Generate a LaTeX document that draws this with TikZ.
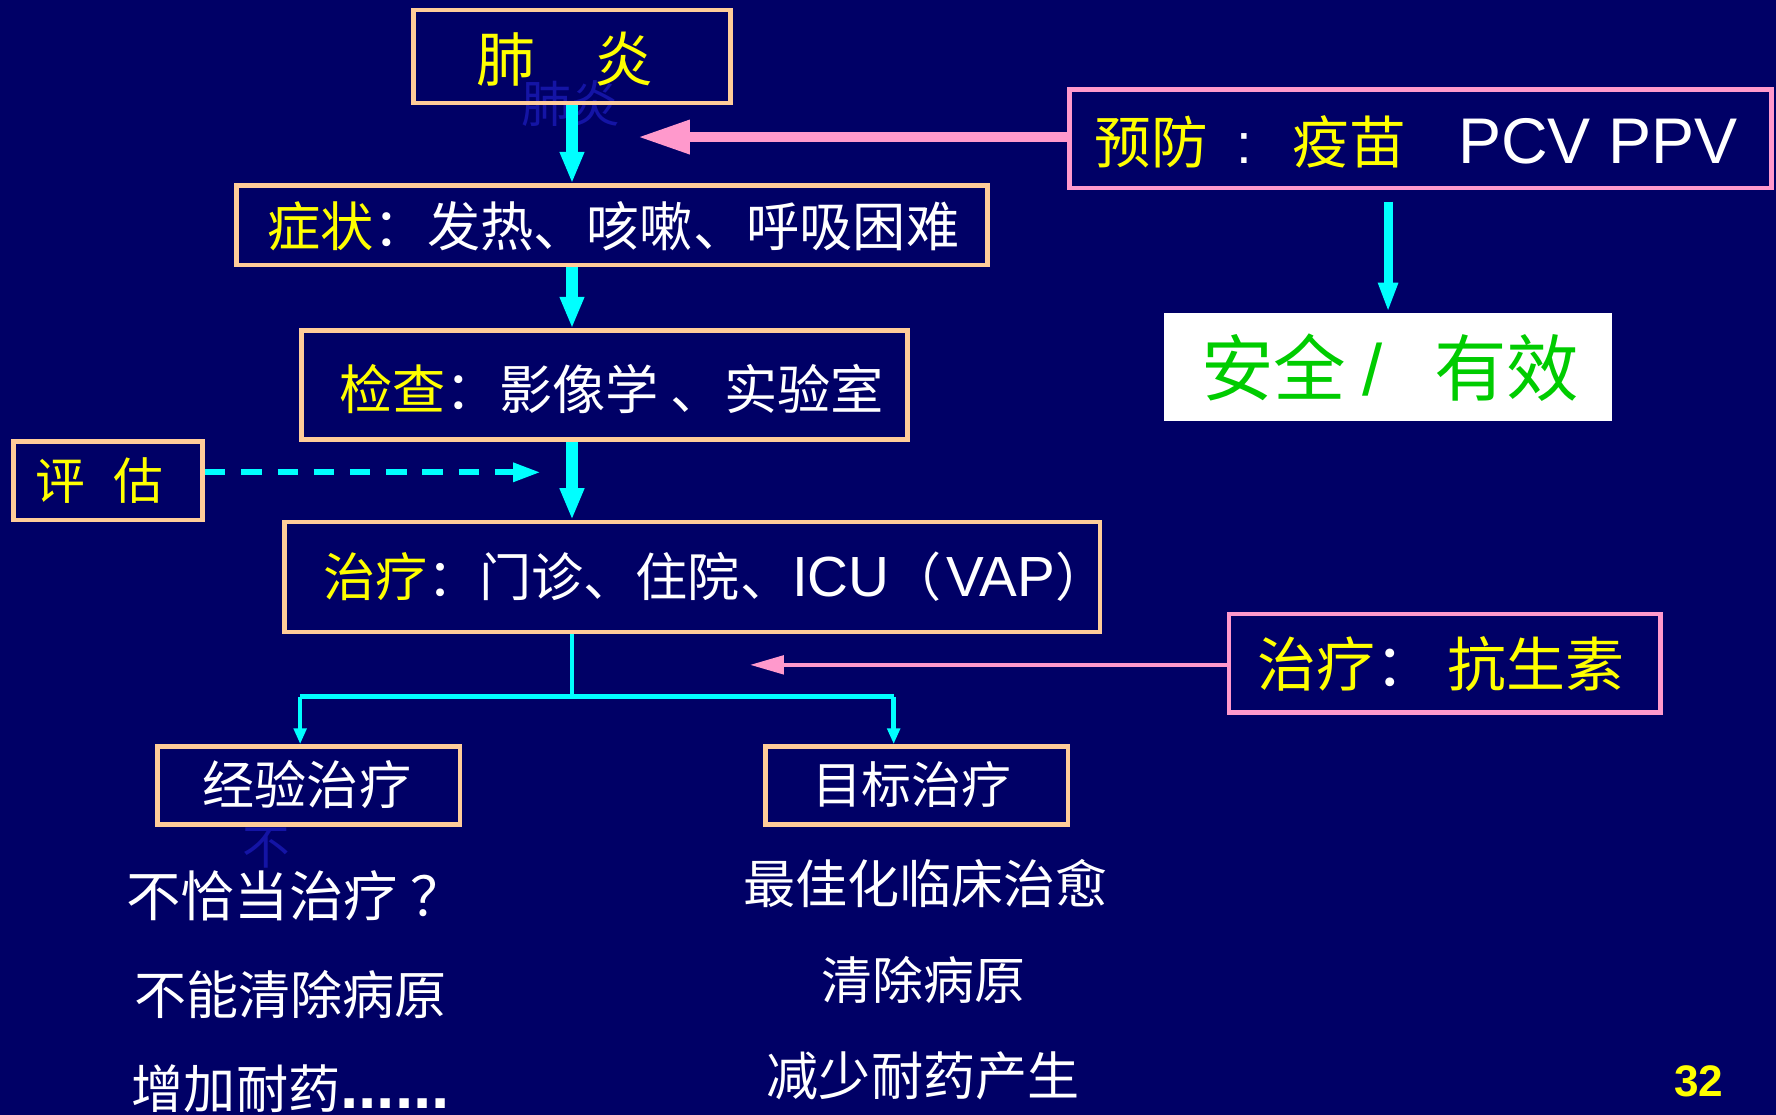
\documentclass[tikz,border=0pt]{standalone}
\usepackage{fontspec}
\setmainfont{Liberation Sans}
\newfontfamily\cjk{Noto Sans CJK SC}
\usetikzlibrary{arrows.meta}
\definecolor{bg}{RGB}{0,0,102}
\definecolor{peach}{RGB}{255,204,153}
\definecolor{pinkc}{RGB}{255,153,204}
\definecolor{cyanc}{RGB}{0,255,255}
\definecolor{yel}{RGB}{255,255,0}
\definecolor{grn}{RGB}{0,204,0}
\definecolor{ghost}{RGB}{20,20,165}
\newcommand\myfs[1]{\fontsize{#1}{#1}\selectfont}
\begin{document}
\begin{tikzpicture}[x=0.5pt,y=-0.5pt,
  pbox/.style={draw=peach,line width=2pt,inner sep=0,minimum width=#1},
  kbox/.style={draw=pinkc,line width=2pt,inner sep=0,minimum width=#1},
  txt/.style={inner sep=0,text=white,font=\cjk},
  bigcy/.style={draw=cyanc,line width=5pt,-{Triangle[length=14pt,width=10pt]}},
  midcy/.style={draw=cyanc,line width=4pt,-{Triangle[length=13pt,width=8pt]}},
  thincy/.style={draw=cyanc,line width=2pt},
  thincyarr/.style={draw=cyanc,line width=2pt,-{Triangle[length=7pt,width=5.5pt]}},
  dashcy/.style={draw=cyanc,line width=2.5pt,dash pattern=on 9pt off 7pt,-{Triangle[length=12pt,width=8pt]}},
  bigpk/.style={draw=pinkc,line width=4.5pt,-{Triangle[length=23pt,width=14pt]}},
  thinpk/.style={draw=pinkc,line width=2pt,-{Triangle[length=15pt,width=8pt]}}
]
\fill[bg] (0,0) rectangle (1568,984);
\useasboundingbox (0,0) rectangle (1568,984);

% faint ghost texts
\node[txt,text=ghost,font=\cjk\myfs{22pt},text height=16pt,text depth=0pt] (g1) at (504,92) {肺炎};
\node[txt,text=ghost,font=\cjk\myfs{21pt},text height=15pt,text depth=0pt] (g2) at (235,748) {不};

% boxes
\node[pbox=140pt,minimum height=41pt] (fy) at (505,50) {};
\node[pbox=331.5pt,minimum height=35pt] (zz) at (540.5,199) {};
\node[pbox=267.5pt,minimum height=48pt] (jc) at (533.5,340) {};
\node[pbox=83.5pt,minimum height=34.5pt] (pg) at (95.5,424.5) {};
\node[pbox=360pt,minimum height=48.5pt] (zl) at (611,509.5) {};
\node[kbox=310pt,minimum height=43.5pt] (yf) at (1254,122.5) {};
\node[fill=white,inner sep=0,minimum width=197.5pt,minimum height=48pt] (aq) at (1225.5,324) {};
\node[kbox=190.5pt,minimum height=43.5pt] (kss) at (1275.5,585.5) {};
\node[pbox=133.5pt,minimum height=34.5pt] (jy) at (272.5,693.5) {};
\node[pbox=133.5pt,minimum height=34.5pt] (mb) at (809.5,693.5) {};

% box texts
\node[txt,text=yel,font=\cjk\myfs{26pt}] (t1) at (499,52) {肺　炎};
\node[txt,font=\cjk\myfs{23.5pt}] (t2) at (541.5,200) {\textcolor{yel}{症状}：发热、咳嗽、呼吸困难};
\node[txt,font=\cjk\myfs{23.5pt}] (t3) at (540,343) {\textcolor{yel}{检查}：影像学 、实验室};
\node[txt,text=yel,font=\cjk\myfs{22pt}] (t4) at (88,424) {评\hspace{12.5pt}估};
\node[txt,font=\cjk\myfs{23pt},anchor=west] (t5) at (285,509) {\textcolor{yel}{治疗}：门诊、住院、{\rmfamily\myfs{25pt}ICU}（\hspace{2pt}{\rmfamily\myfs{25pt}VAP}）};
\node[txt,font=\cjk\myfs{25pt},anchor=west] (t6) at (966,125) {\textcolor{yel}{预防}\hspace{12.5pt}{\rmfamily :}\hspace{18pt}\textcolor{yel}{疫苗}\hspace{23pt}{\rmfamily\myfs{28.5pt}PCV PPV}};
\node[txt,text=grn,font=\cjk\myfs{32pt}] (t7) at (1227.5,325) {安全\hspace{7pt}{\rmfamily /}\hspace{23pt}有效};
\node[txt,font=\cjk\myfs{26pt}] (t8) at (1272,586) {\textcolor{yel}{治疗}：\hspace{6pt}\textcolor{yel}{抗生素}};
\node[txt,font=\cjk\myfs{23pt}] (t9) at (271,693) {经验治疗};
\node[txt,font=\cjk\myfs{22pt}] (t10) at (805,693) {目标治疗};

% free texts
\node[txt,font=\cjk\myfs{24pt},anchor=west] (l1) at (111,791) {不恰当治疗 ？};
\node[txt,font=\cjk\myfs{23pt},anchor=west] (l2) at (118,878) {不能清除病原};
\node[txt,font=\cjk\myfs{23pt},anchor=west] (l3) at (116,961) {增加耐药{\rmfamily\bfseries\myfs{29pt}......}};
\node[txt,font=\cjk\myfs{23pt}] (r1) at (817,780) {最佳化临床治愈};
\node[txt,font=\cjk\myfs{22.5pt}] (r2) at (815,865) {清除病原};
\node[txt,font=\cjk\myfs{23pt}] (r3) at (815,950) {减少耐药产生};
\node[inner sep=0,text=yel,font=\rmfamily\bfseries\myfs{19.5pt}] (pn) at (1500,955) {32};

% connectors
\draw[bigcy] (fy.south) -- (fy.south |- zz.north);
\draw[bigcy] (zz.south -| fy.south) -- (jc.north -| fy.south);
\draw[bigcy] (jc.south -| fy.south) -- (zl.north -| fy.south);
\coordinate (dtip) at (477,417);
\draw[dashcy] (pg.east |- dtip) -- (dtip);
\coordinate (ptip) at (563,121);
\draw[bigpk] (yf.west |- ptip) -- (ptip);
\draw[midcy] ([yshift=-5pt]yf.south -| aq.north) -- (aq.north);
\coordinate (ktip) at (662,587);
\draw[thinpk] (kss.west |- ktip) -- (ktip);
\coordinate (br) at (505,615);
\coordinate (bl) at (265,615);
\coordinate (brr) at (789,615);
\draw[thincy] (zl.south -| br) -- (br);
\draw[thincy] (bl) -- (brr);
\draw[thincyarr] (bl) -- (bl |- jy.north);
\draw[thincyarr] (brr) -- (brr |- mb.north);
\end{tikzpicture}
\end{document}
